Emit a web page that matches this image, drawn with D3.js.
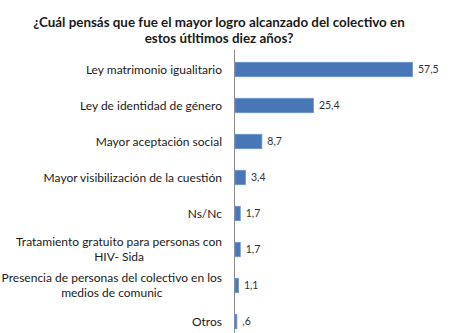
<!DOCTYPE html>
<html><head><meta charset="utf-8">
<script src="https://cdn.jsdelivr.net/npm/d3@7"></script>
<style>
html,body{margin:0;padding:0;background:#fff;}
svg{display:block;}
</style></head>
<body>
<script>
const titleLines = ["¿Cuál pensás que fue el mayor logro alcanzado del colectivo en", "estos útltimos diez años?"];
const categories = [
  "Ley matrimonio igualitario",
  "Ley de identidad de género",
  "Mayor aceptación social",
  "Mayor visibilización de la cuestión",
  "Ns/Nc",
  "Tratamiento gratuito para personas con HIV- Sida",
  "Presencia de personas del colectivo en los medios de comunic",
  "Otros"
];
const values = [57.5, 25.4, 8.7, 3.4, 1.7, 1.7, 1.1, 0.6];

const W = 450, H = 333;
const svg = d3.select("body").append("svg").attr("width", W).attr("height", H);
const font = "Lato, 'Open Sans', sans-serif";

const x0 = 234.5;
const x = d3.scaleLinear().domain([0, 57.5]).range([x0, 412]);
const y = d3.scaleBand().domain(categories).range([51.5, 339.5]).paddingInner(0.6).paddingOuter(0.3);

// title
svg.append("g").selectAll("text").data(titleLines).join("text")
  .attr("x", 219).attr("y", (d, i) => 27 + i * 16)
  .attr("text-anchor", "middle")
  .style("font-family", font).style("font-weight", "bold").style("font-size", "13.4px")
  .attr("fill", "#1a1a1a").text(d => d);

// axis line
svg.append("line").attr("x1", x0).attr("x2", x0).attr("y1", 50).attr("y2", 333)
  .attr("stroke", "#8c8c8c").attr("stroke-width", 1);

// bars
svg.append("g").selectAll("rect").data(values).join("rect")
  .attr("x", x(0) + 0.5)
  .attr("y", (d, i) => y(categories[i]))
  .attr("width", d => Math.max(0, x(d) - x(0)))
  .attr("height", y.bandwidth())
  .attr("fill", "#4877b7").attr("stroke", "#6a96cc").attr("stroke-width", 0.8);

// value labels
const fmt = v => d3.format(".1f")(v).replace(".", ",").replace(/^0/, "");
svg.append("g").selectAll("text").data(values).join("text")
  .attr("x", d => x(d) + 6)
  .attr("y", (d, i) => y(categories[i]) + y.bandwidth() / 2)
  .attr("dy", "0.35em")
  .style("font-family", font).style("font-size", "10.5px")
  .attr("fill", "#333").text(d => fmt(d));

// category labels with wrapping
const maxW = 224;
const labelG = svg.append("g");
categories.forEach((c, i) => {
  const t = labelG.append("text").style("font-family", font).style("font-size", "12px").attr("fill", "#1a1a1a");
  const words = c.split(" ");
  let lines = [], cur = [];
  words.forEach(w => {
    cur.push(w);
    t.text(cur.join(" "));
    if (t.node().getComputedTextLength() > maxW && cur.length > 1) {
      cur.pop(); lines.push(cur.join(" ")); cur = [w];
    }
  });
  lines.push(cur.join(" "));
  t.text(null);
  const widths = lines.map(l => { t.text(l); return t.node().getComputedTextLength(); });
  t.text(null);
  const blockW = d3.max(widths);
  const right = 222;
  const cx = right - blockW / 2;
  const lh = 15;
  const cy = y(c) + y.bandwidth() / 2;
  lines.forEach((l, k) => {
    t.append("tspan").attr("x", lines.length > 1 ? cx : right)
      .attr("text-anchor", lines.length > 1 ? "middle" : "end")
      .attr("y", cy + (k - (lines.length - 1) / 2) * lh)
      .attr("dy", "0.35em").text(l);
  });
});
</script>
</body></html>
